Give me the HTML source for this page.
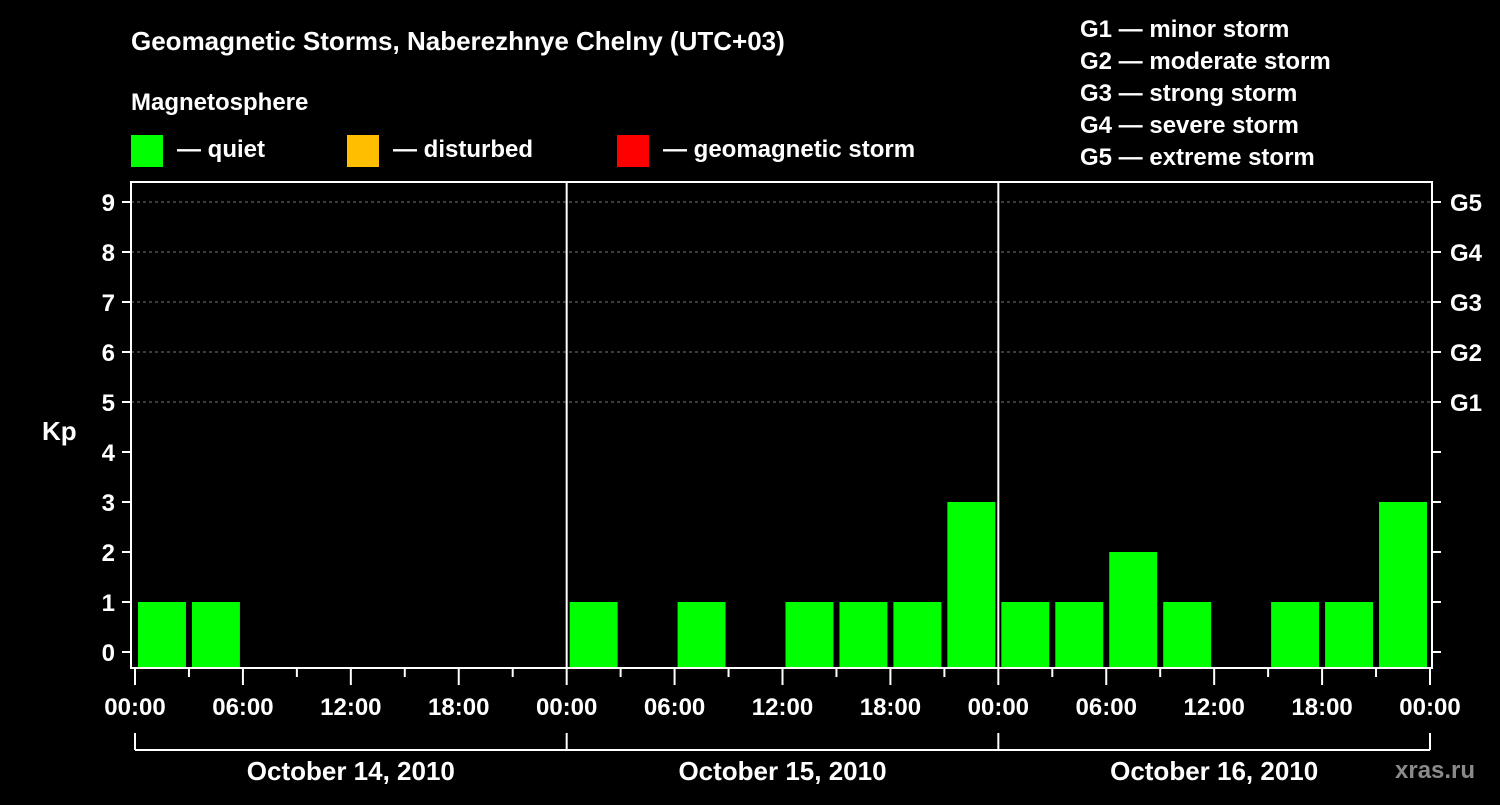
<!DOCTYPE html>
<html><head><meta charset="utf-8"><style>
body{margin:0;background:#000;width:1500px;height:800px;overflow:hidden}
svg text{font-family:"Liberation Sans",sans-serif;font-weight:bold;fill:#fff}
</style></head><body>
<svg id="c" width="1500" height="800">
<text x="131" y="50" font-size="26">Geomagnetic Storms, Naberezhnye Chelny (UTC+03)</text>
<text x="131" y="110" font-size="24">Magnetosphere</text>
<g>
<rect x="131" y="135" width="32" height="32" fill="#00ff00"/>
<text x="177" y="157" font-size="24">— quiet</text>
<rect x="347" y="135" width="32" height="32" fill="#ffbf00"/>
<text x="393" y="157" font-size="24">— disturbed</text>
<rect x="617" y="135" width="32" height="32" fill="#ff0000"/>
<text x="663" y="157" font-size="24">— geomagnetic storm</text>
</g>
<g font-size="24">
<text x="1080" y="37">G1 — minor storm</text>
<text x="1080" y="69">G2 — moderate storm</text>
<text x="1080" y="101">G3 — strong storm</text>
<text x="1080" y="133">G4 — severe storm</text>
<text x="1080" y="165">G5 — extreme storm</text>
</g>
<text x="42" y="440" font-size="26">Kp</text>
<text x="1395" y="778" font-size="24" fill="#888" style="fill:#8a8a8a">xras.ru</text>
<g id="plot"></g>
</svg>
<script>
const days = ["October 14, 2010","October 15, 2010","October 16, 2010"];
const kpDay1 = [1,1,0,0,0,0,0,0];
const kpDay2 = [1,0,1,0,1,1,1,3];
const kpDay3 = [1,1,2,1,0,1,1,3];
const hourLabels = ["00:00","06:00","12:00","18:00"];
const gLabels = ["G1","G2","G3","G4","G5"];
const NS="http://www.w3.org/2000/svg";
const g=document.getElementById('plot');
const X0=135,X1=1430,FL=131,FR=1432,FT=182,FB=668;
const slot=(X1-X0)/24;
function xs(i){return X0+i*slot;}
function ys(v){return 652-v*50;}
function mk(t,a,p){const e=document.createElementNS(NS,t);for(const k in a)e.setAttribute(k,a[k]);(p||g).appendChild(e);return e;}
// grid
for(let v=5;v<=9;v++){
const l=mk('line',{x1:FL,x2:FR,y1:ys(v),y2:ys(v),stroke:'#777','stroke-dasharray':'3,3','stroke-width':1});


}
// bars
const all=[].concat(kpDay1,kpDay2,kpDay3);
all.forEach((v,i)=>{
if(v<=0)return;
const col=v>=5?'#ff0000':(v>=4?'#ffbf00':'#00ff00');
const r=mk('rect',{x:xs(i)+3,y:ys(v),width:slot-6,height:FB-ys(v),fill:col});


});
// day separators
for(let d=1;d<3;d++){
const l=mk('line',{x1:xs(d*8),x2:xs(d*8),y1:FT,y2:FB,stroke:'#fff','stroke-width':2});


}
// frame
const f=mk('rect',{x:FL,y:FT,width:FR-FL,height:FB-FT,fill:'none',stroke:'#fff','stroke-width':2});


// y ticks
for(let v=0;v<=9;v++){
mk('line',{x1:122,x2:FL,y1:ys(v),y2:ys(v),stroke:'#fff','stroke-width':2});
mk('line',{x1:FR,x2:1441,y1:ys(v),y2:ys(v),stroke:'#fff','stroke-width':2});
const t=mk('text',{x:115,y:ys(v)+9,'text-anchor':'end','font-size':24});
t.textContent=v;


}
gLabels.forEach((s,i)=>{
const t=mk('text',{x:1450,y:ys(5+i)+9,'font-size':24});
t.textContent=s;


});
// x ticks
for(let i=0;i<=24;i++){
const major=i%2===0;
mk('line',{x1:xs(i),x2:xs(i),y1:FB,y2:major?685:677,stroke:'#fff','stroke-width':2});
if(major){
const t=mk('text',{x:xs(i),y:715,'text-anchor':'middle','font-size':24});
t.textContent=hourLabels[(i/2)%4];


}
}
// day brackets
mk('line',{x1:X0,x2:X1,y1:750,y2:750,stroke:'#fff','stroke-width':2});
for(let d=0;d<=3;d++)mk('line',{x1:xs(d*8),x2:xs(d*8),y1:733,y2:750,stroke:'#fff','stroke-width':2});
days.forEach((s,d)=>{
const t=mk('text',{x:xs(d*8+4),y:780,'text-anchor':'middle','font-size':26});
t.textContent=s;


});
</script>
</body></html>
